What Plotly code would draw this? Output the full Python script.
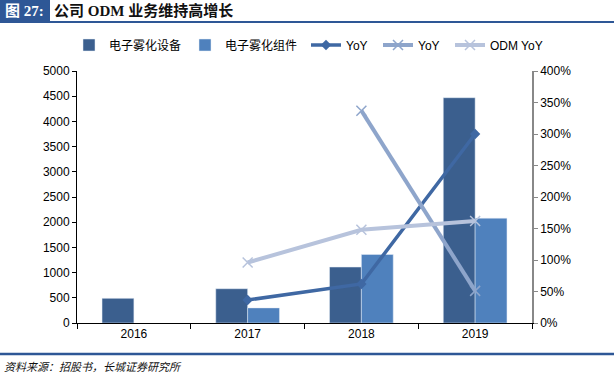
import plotly.graph_objects as go

years = ["2016", "2017", "2018", "2019"]
device = [490, 680, 1110, 4470]
component = [None, 300, 1360, 2080]
yoy_device = [None, 0.365, 0.62, 3.0]
yoy_component = [None, None, 3.37, 0.51]
odm_yoy = [None, 0.96, 1.48, 1.62]

left_ticks = list(range(0, 5001, 500))
right_ticks = [i * 0.5 for i in range(9)]
right_labels = [f"{int(v*100)}%" for v in right_ticks]

font_main = "Liberation Sans, Arial, Noto Sans CJK SC, sans-serif"
font_cjk = "Noto Sans CJK SC, sans-serif"
font_title = "Liberation Serif, Noto Sans CJK SC, serif"

fig = go.Figure()
fig.add_trace(go.Bar(x=years, y=device, name="电子雾化设备", marker=dict(color="#3B5F8E"), legend="legend"))
fig.add_trace(go.Bar(x=years, y=component, name="电子雾化组件", marker=dict(color="#4F81BD"), legend="legend"))
fig.add_trace(go.Scatter(x=years, y=yoy_device, name="YoY", yaxis="y2", mode="lines+markers",
                         line=dict(color="#3F68A3", width=3.5),
                         marker=dict(symbol="diamond", size=8, color="#3F68A3"), legend="legend2"))
fig.add_trace(go.Scatter(x=years, y=yoy_component, name="YoY", yaxis="y2", mode="lines+markers",
                         line=dict(color="#8EA5CB", width=4),
                         marker=dict(symbol="x-thin", size=10, line=dict(color="#8EA5CB", width=1.5)), legend="legend3"))
fig.add_trace(go.Scatter(x=years, y=odm_yoy, name="ODM YoY", yaxis="y2", mode="lines+markers",
                         line=dict(color="#B7C3DC", width=4),
                         marker=dict(symbol="x-thin", size=10, line=dict(color="#B7C3DC", width=1.5)), legend="legend4"))

LY = (323 - 45) / 252

def leg(x_px, fam):
    return dict(orientation="h", x=(x_px - 77) / 455, xanchor="left", y=LY, yanchor="middle",
                font=dict(size=12, family=fam), itemwidth=30, bgcolor="rgba(0,0,0,0)")

leg1 = leg(69, font_cjk)
leg1["entrywidth"] = 71

fig.update_layout(
    width=614, height=376,
    margin=dict(l=77, r=82, t=71, b=53, autoexpand=False),
    paper_bgcolor="white", plot_bgcolor="white",
    barmode="group", bargap=0.44, bargroupgap=0,
    font=dict(family=font_main, size=12, color="black"),
    showlegend=True,
    xaxis=dict(type="category", tickson="boundaries", ticks="outside", ticklen=5, tickcolor="black",
               showline=True, linecolor="black", linewidth=1, showgrid=False,
               tickfont=dict(size=12, family=font_main)),
    yaxis=dict(range=[0, 5000], tickvals=left_ticks, ticks="outside", ticklen=4, tickcolor="black",
               showline=True, linecolor="black", linewidth=1, showgrid=False, zeroline=False,
               tickfont=dict(size=12, family=font_main)),
    yaxis2=dict(range=[0, 4], tickvals=right_ticks, ticktext=right_labels, overlaying="y", side="right",
                ticks="outside", ticklen=4, tickcolor="#888888", showline=True, linecolor="#888888",
                linewidth=1.5, showgrid=False, zeroline=False,
                tickfont=dict(size=12, family=font_main)),
    legend=leg1,
    legend2=leg(306, font_main),
    legend3=leg(378, font_main),
    legend4=leg(450, font_main),
)

# Title box and rules
fig.add_shape(type="rect", xref="paper", yref="paper", x0=-77/455, x1=(50-77)/455,
              y0=(323-22)/252, y1=(323-0)/252 + 0.01, fillcolor="#2E5796", line=dict(width=0), layer="above")
fig.add_shape(type="line", xref="paper", yref="paper", x0=-77/455, x1=(614-77)/455,
              y0=(323-22)/252, y1=(323-22)/252, line=dict(color="#2E5796", width=2))
fig.add_shape(type="line", xref="paper", yref="paper", x0=-77/455, x1=(614-77)/455,
              y0=(323-354)/252, y1=(323-354)/252, line=dict(color="#2E5796", width=2.5))

fig.add_annotation(text="<b>图 27:</b>", xref="paper", yref="paper", x=(3-77)/455, y=(323-11)/252,
                   xanchor="left", yanchor="middle", showarrow=False,
                   font=dict(size=15, color="white", family=font_title))
fig.add_annotation(text="<b>公司 ODM 业务维持高增长</b>", xref="paper", yref="paper", x=(52-77)/455, y=(323-11)/252,
                   xanchor="left", yanchor="middle", showarrow=False,
                   font=dict(size=15, color="#111111", family=font_title))
fig.add_annotation(text="<i>资料来源：招股书，长城证券研究所</i>", xref="paper", yref="paper", x=(2-77)/455, y=(323-366)/252,
                   xanchor="left", yanchor="middle", showarrow=False,
                   font=dict(size=11, color="#111111", family=font_cjk))

fig.write_html("out.html", config={"displayModeBar": False},
               post_script="document.body.style.margin='0';document.body.style.overflow='hidden';")
